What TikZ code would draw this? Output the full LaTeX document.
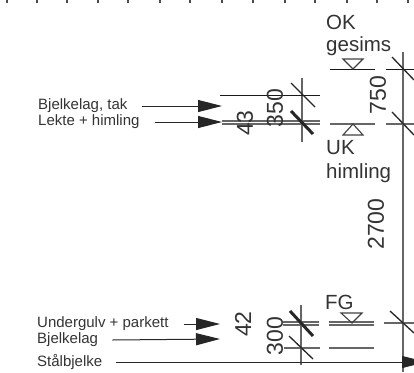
\documentclass[tikz,border=0pt]{standalone}
\usepackage{fontspec}
\setmainfont{Liberation Sans}
\usepackage{xcolor}
\usetikzlibrary{arrows.meta}
\definecolor{inktext}{gray}{0.2}
\begin{document}
\begin{tikzpicture}[
  x=1pt,
  y=-1pt,
  label/.style={
    anchor=west,
    inner sep=0pt,
    text=inktext,
    font=\fontsize{15}{15}\selectfont
  },
  level/.style={
    anchor=west,
    inner sep=0pt,
    text=inktext,
    font=\fontsize{20.5}{20.5}\selectfont
  },
  dim/.style={
    rotate=90,
    inner sep=0pt,
    text=inktext,
    font=\fontsize{23}{23}\selectfont
  },
  pointer/.style={
    -{Stealth[length=24pt,width=12pt,inset=0pt]},
    line width=1pt,
    draw=black!85
  },
  grid/.style={line width=1.2pt, draw=black!60},
  thin level/.style={line width=1pt, draw=black!90},
  tick/.style={line width=1.3pt, draw=black!85},
  heavy tick/.style={line width=3pt, draw=black!85},
  marker/.style={line width=1.1pt, draw=black!75}
]
\useasboundingbox (0,0) rectangle (414,372);
\clip (0,0) rectangle (414,372);

% Scale marks along the top edge
\foreach \x in {7,37,67,98,128,160,190,222,253,285,315,347,377,408}
  \draw[tick, draw=black!70] (\x,0) -- (\x,3);

% Dimension lines
\draw[grid] (403,52) -- (403,372);
\draw[grid] (302,78) -- (302,142);
\draw[grid] (301,305) -- (301,365);

% Roof levels
\draw[thin level] (220,95) -- (320,95);
\draw[grid] (222,121) -- (320,121);
\draw[grid] (222,124) -- (320,124);
\draw[thin level] (330,69) -- (375,69);
\draw[thin level] (386,69) -- (414,69);
\draw[grid] (330,124) -- (375,124);
\draw[grid] (386,124) -- (414,124);

% Floor levels
\draw[grid] (283,322) -- (319,322);
\draw[grid] (283,325) -- (319,325);
\draw[grid] (329,322) -- (374,322);
\draw[grid] (329,325) -- (374,325);
\draw[grid] (384,323) -- (414,323);
\draw[grid] (284,348) -- (320,348);
\draw[grid] (329,348) -- (374,348);

% Ticks
\draw[tick] (291,83) -- (315,107);
\draw[heavy tick] (291,111) -- (313,134);
\draw[tick] (392,57) -- (414,80);
\draw[tick] (392,112) -- (414,135);
\draw[heavy tick] (290,311) -- (313,336);
\draw[tick] (289,336) -- (313,359);
\draw[tick] (390,311) -- (414,333);

% Level markers
\draw[marker] (343,59) -- (363,59) -- (353,69) -- cycle;
\draw[marker] (343,135) -- (363,135) -- (353,124) -- cycle;
\draw[marker] (341,313) -- (362,313) -- (352,323) -- cycle;

% Level labels
\node[level] (okg) at (326,22) {OK};
\node[level] (ges) at (326,46) {gesims};
\node[level] (ukh) at (326,148) {UK};
\node[level] (him) at (326,173) {himling};
\node[level] (fg) at (325,302) {FG};

% Dimensions
\node[dim] (d43) at (245,123) {43};
\node[dim] (d350) at (275,108) {350};
\node[dim] (d750) at (378,95) {750};
\node[dim] (d2700) at (376,224) {2700};
\node[dim] (d42) at (243,324) {42};
\node[dim] (d300) at (275,336) {300};

% Layer labels and pointers
\node[label] (tak) at (38,106) {Bjelkelag, tak};
\node[label] (lekte) at (38,122) {Lekte + himling};
\node[label] (gulv) at (37,324) {Undergulv + parkett};
\node[label] (lag) at (37,340) {Bjelkelag};
\node[label] (stal) at (37,362) {Stålbjelke};

\coordinate (taktip) at (222,106);
\coordinate (lektetip) at (222,122);
\coordinate (gulvtip) at (220,324);
\coordinate (lagtip) at (220,339);
\coordinate (staltip) at (426,362);

\draw[pointer] ([xshift=14pt]tak.east) -- (taktip);
\draw[pointer] ([xshift=15pt]lekte.east) -- (lektetip);
\draw[pointer] ([xshift=15pt]gulv.east) -- (gulvtip);
\draw[pointer] ([xshift=14pt]lag.east) -- (lagtip);
\draw[pointer] ([xshift=14pt]stal.east) -- (staltip);
\end{tikzpicture}
\end{document}
